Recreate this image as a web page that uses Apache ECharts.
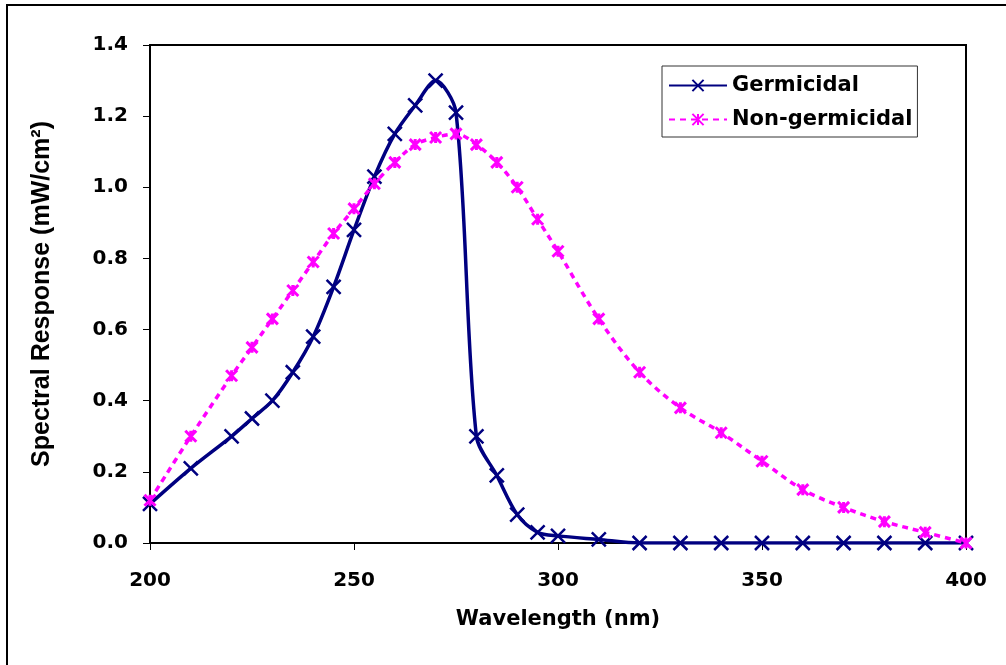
<!DOCTYPE html>
<html>
<head>
<meta charset="utf-8">
<title>Spectral Response</title>
<script src="https://cdn.jsdelivr.net/npm/echarts@6/dist/echarts.min.js"></script>
<style>
  html, body { margin: 0; padding: 0; background: #fff; }
  #chart { width: 1006px; height: 665px; }
</style>
</head>
<body>
<div id="chart"></div>
<script>
// wavelength (nm) of each marker
var germWave = [200, 210, 220, 225, 230, 235, 240, 245, 250, 255, 260, 265, 270, 275, 280, 285, 290, 295, 300, 310, 320, 330, 340, 350, 360, 370, 380, 390, 400];
var germValues = [0.11, 0.21, 0.30, 0.35, 0.40, 0.48, 0.58, 0.72, 0.88, 1.03, 1.15, 1.23, 1.30, 1.21, 0.30, 0.19, 0.08, 0.03, 0.02, 0.01, 0, 0, 0, 0, 0, 0, 0, 0, 0];

var nonGermWave = [200, 210, 220, 225, 230, 235, 240, 245, 250, 255, 260, 265, 270, 275, 280, 285, 290, 295, 300, 310, 320, 330, 340, 350, 360, 370, 380, 390, 400];
var nonGermValues = [0.12, 0.30, 0.47, 0.55, 0.63, 0.71, 0.79, 0.87, 0.94, 1.01, 1.07, 1.12, 1.14, 1.15, 1.12, 1.07, 1.00, 0.91, 0.82, 0.63, 0.48, 0.38, 0.31, 0.23, 0.15, 0.10, 0.06, 0.03, 0.00];

var seriesNames = ['Germicidal', 'Non-germicidal'];

function pairs(xs, ys) {
  var res = [];
  for (var i = 0; i < xs.length; i++) {
    res.push([xs[i], ys[i]]);
  }
  return res;
}

var crossPath = 'path://M0,0L10,10M10,0L0,10';
var starPath = 'path://M0,0L10,10M10,0L0,10M5,0L5,10';
var labelFont = 'DejaVu Sans';

var myChart = echarts.init(document.getElementById('chart'));
myChart.setOption({
  animation: false,
  backgroundColor: '#fff',
  // outer frame (only left / top edge visible)
  graphic: [{
    type: 'rect',
    shape: { x: 7, y: 5, width: 1100, height: 700 },
    style: { fill: 'none', stroke: '#000', lineWidth: 2 },
    silent: true
  }],
  grid: {
    left: 150,
    top: 45,
    right: 40,
    bottom: 122,
    show: true,
    borderColor: '#000',
    borderWidth: 2,
    backgroundColor: '#fff'
  },
  legend: {
    data: seriesNames,
    orient: 'vertical',
    left: 662,
    top: 66,
    padding: [9, 5, 7, 6],
    itemGap: 13,
    itemWidth: 58,
    itemHeight: 14,
    backgroundColor: '#fff',
    borderColor: '#333',
    borderWidth: 1,
    textStyle: {
      fontFamily: labelFont,
      fontWeight: 'bold',
      fontSize: 21,
      color: '#000'
    }
  },
  xAxis: {
    type: 'value',
    min: 200,
    max: 400,
    interval: 50,
    name: 'Wavelength (nm)',
    nameLocation: 'middle',
    nameGap: 66,
    nameTextStyle: {
      fontFamily: labelFont,
      fontWeight: 'bold',
      fontSize: 21,
      color: '#000'
    },
    axisLine: { lineStyle: { color: '#000', width: 2 } },
    axisTick: { length: 7, lineStyle: { color: '#000', width: 1 } },
    axisLabel: {
      margin: 28,
      fontFamily: labelFont,
      fontWeight: 'bold',
      fontSize: 20,
      color: '#000'
    },
    splitLine: { show: false }
  },
  yAxis: {
    type: 'value',
    min: 0,
    max: 1.4,
    interval: 0.2,
    name: 'Spectral Response (mW/cm²)',
    nameLocation: 'middle',
    nameGap: 95,
    nameTextStyle: {
      fontFamily: 'Liberation Sans',
      fontWeight: 'bold',
      fontSize: 25,
      color: '#000'
    },
    axisLine: { lineStyle: { color: '#000', width: 2 } },
    axisTick: { length: 7, lineStyle: { color: '#000', width: 1 } },
    axisLabel: {
      margin: 22,
      fontFamily: labelFont,
      fontWeight: 'bold',
      fontSize: 20,
      color: '#000',
      formatter: function (v) { return v.toFixed(1); }
    },
    splitLine: { show: false }
  },
  series: [
    {
      name: seriesNames[0],
      type: 'line',
      data: pairs(germWave, germValues),
      smooth: 0.3,
      symbol: crossPath,
      symbolSize: 14,
      showAllSymbol: true,
      lineStyle: { color: '#000080', width: 3.5 },
      itemStyle: { color: '#000080', borderColor: '#000080', borderWidth: 2.5 }
    },
    {
      name: seriesNames[1],
      type: 'line',
      data: pairs(nonGermWave, nonGermValues),
      smooth: 0.35,
      symbol: starPath,
      symbolSize: 11,
      showAllSymbol: true,
      lineStyle: { color: '#ff00ff', width: 3.5, type: [6, 5] },
      itemStyle: { color: '#ff00ff', borderColor: '#ff00ff', borderWidth: 3 }
    }
  ]
});
</script>
</body>
</html>
